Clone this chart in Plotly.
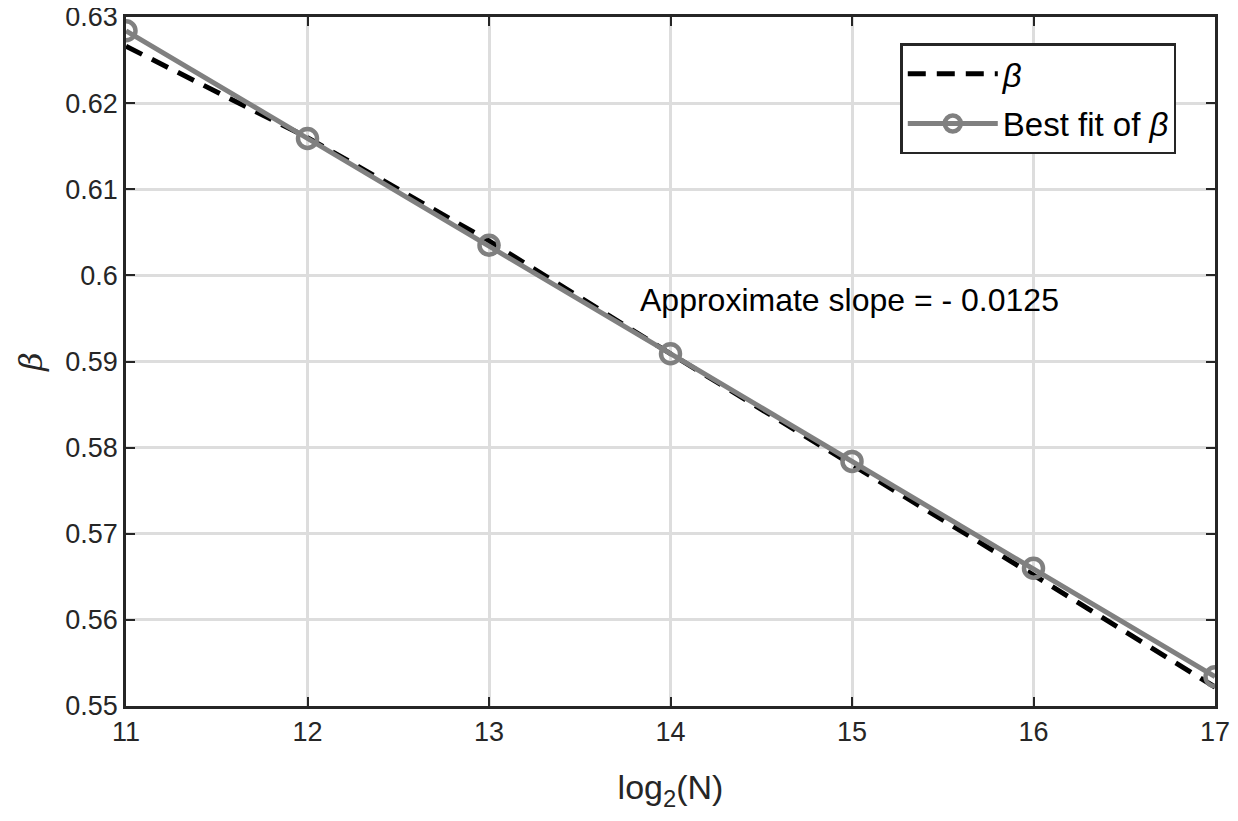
import plotly.graph_objects as go

log2N = [11, 12, 13, 14, 15, 16, 17]
beta = [0.6266, 0.6160, 0.6040, 0.5909, 0.5780, 0.5652, 0.5522]
beta_fit = [0.6284, 0.6159, 0.6035, 0.5909, 0.5784, 0.5660, 0.5534]
x_ticks = [11, 12, 13, 14, 15, 16, 17]
y_ticks = [0.55, 0.56, 0.57, 0.58, 0.59, 0.6, 0.61, 0.62, 0.63]
y_tick_labels = ["0.55", "0.56", "0.57", "0.58", "0.59", "0.6", "0.61", "0.62", "0.63"]

fig = go.Figure()
fig.add_trace(go.Scatter(
    x=log2N, y=beta, mode="lines", name="<i>β</i>", legendgroup="a",
    line=dict(color="black", width=5, dash="18px,11px"),
))
fig.add_trace(go.Scatter(
    x=log2N, y=beta_fit, mode="lines+markers", name="Best fit of <i>β</i>", legendgroup="b",
    line=dict(color="#808080", width=5),
    marker=dict(symbol="circle-open", size=19, color="#808080", line=dict(width=4.5, color="#808080")),
))

fig.add_annotation(
    x=13.82, y=0.5971, xref="x", yref="y", xanchor="left", yanchor="middle",
    text="Approximate slope = - 0.0125", showarrow=False,
    font=dict(family="Liberation Sans, Arial", size=32, color="black"),
)

axis_common = dict(
    showline=True, linecolor="#262626", linewidth=2.5, mirror="ticks",
    ticks="inside", ticklen=9, tickwidth=2, tickcolor="#262626",
    showgrid=True, gridcolor="#dddddd", gridwidth=2.5, zeroline=False,
    ticklabeloverflow="allow",
    tickfont=dict(family="Liberation Sans, Arial", size=27, color="#262626"),
)

fig.update_layout(
    width=1230, height=813,
    margin=dict(l=118, r=23, t=9, b=115, autoexpand=False),
    paper_bgcolor="white", plot_bgcolor="white",
    xaxis=dict(range=[11, 17], tickvals=x_ticks, ticktext=[str(v) for v in x_ticks],
               title=dict(text="log<sub>2</sub>(N)", standoff=30,
                          font=dict(family="Liberation Sans, Arial", size=34, color="#262626")),
               **axis_common),
    yaxis=dict(range=[0.55, 0.6300001], tickvals=y_ticks, ticktext=y_tick_labels,
               title=dict(text="<i>β</i>", standoff=14,
                          font=dict(family="DejaVu Serif, Liberation Serif", size=32, color="#262626")),
               **axis_common),
    legend=dict(x=0.711, y=0.962, xanchor="left", yanchor="top",
                bgcolor="white", bordercolor="#262626", borderwidth=2.5,
                font=dict(family="Liberation Sans, Arial", size=33, color="black"),
                tracegroupgap=4, itemwidth=90),
    showlegend=True,
)

fig.write_html("out.html")
